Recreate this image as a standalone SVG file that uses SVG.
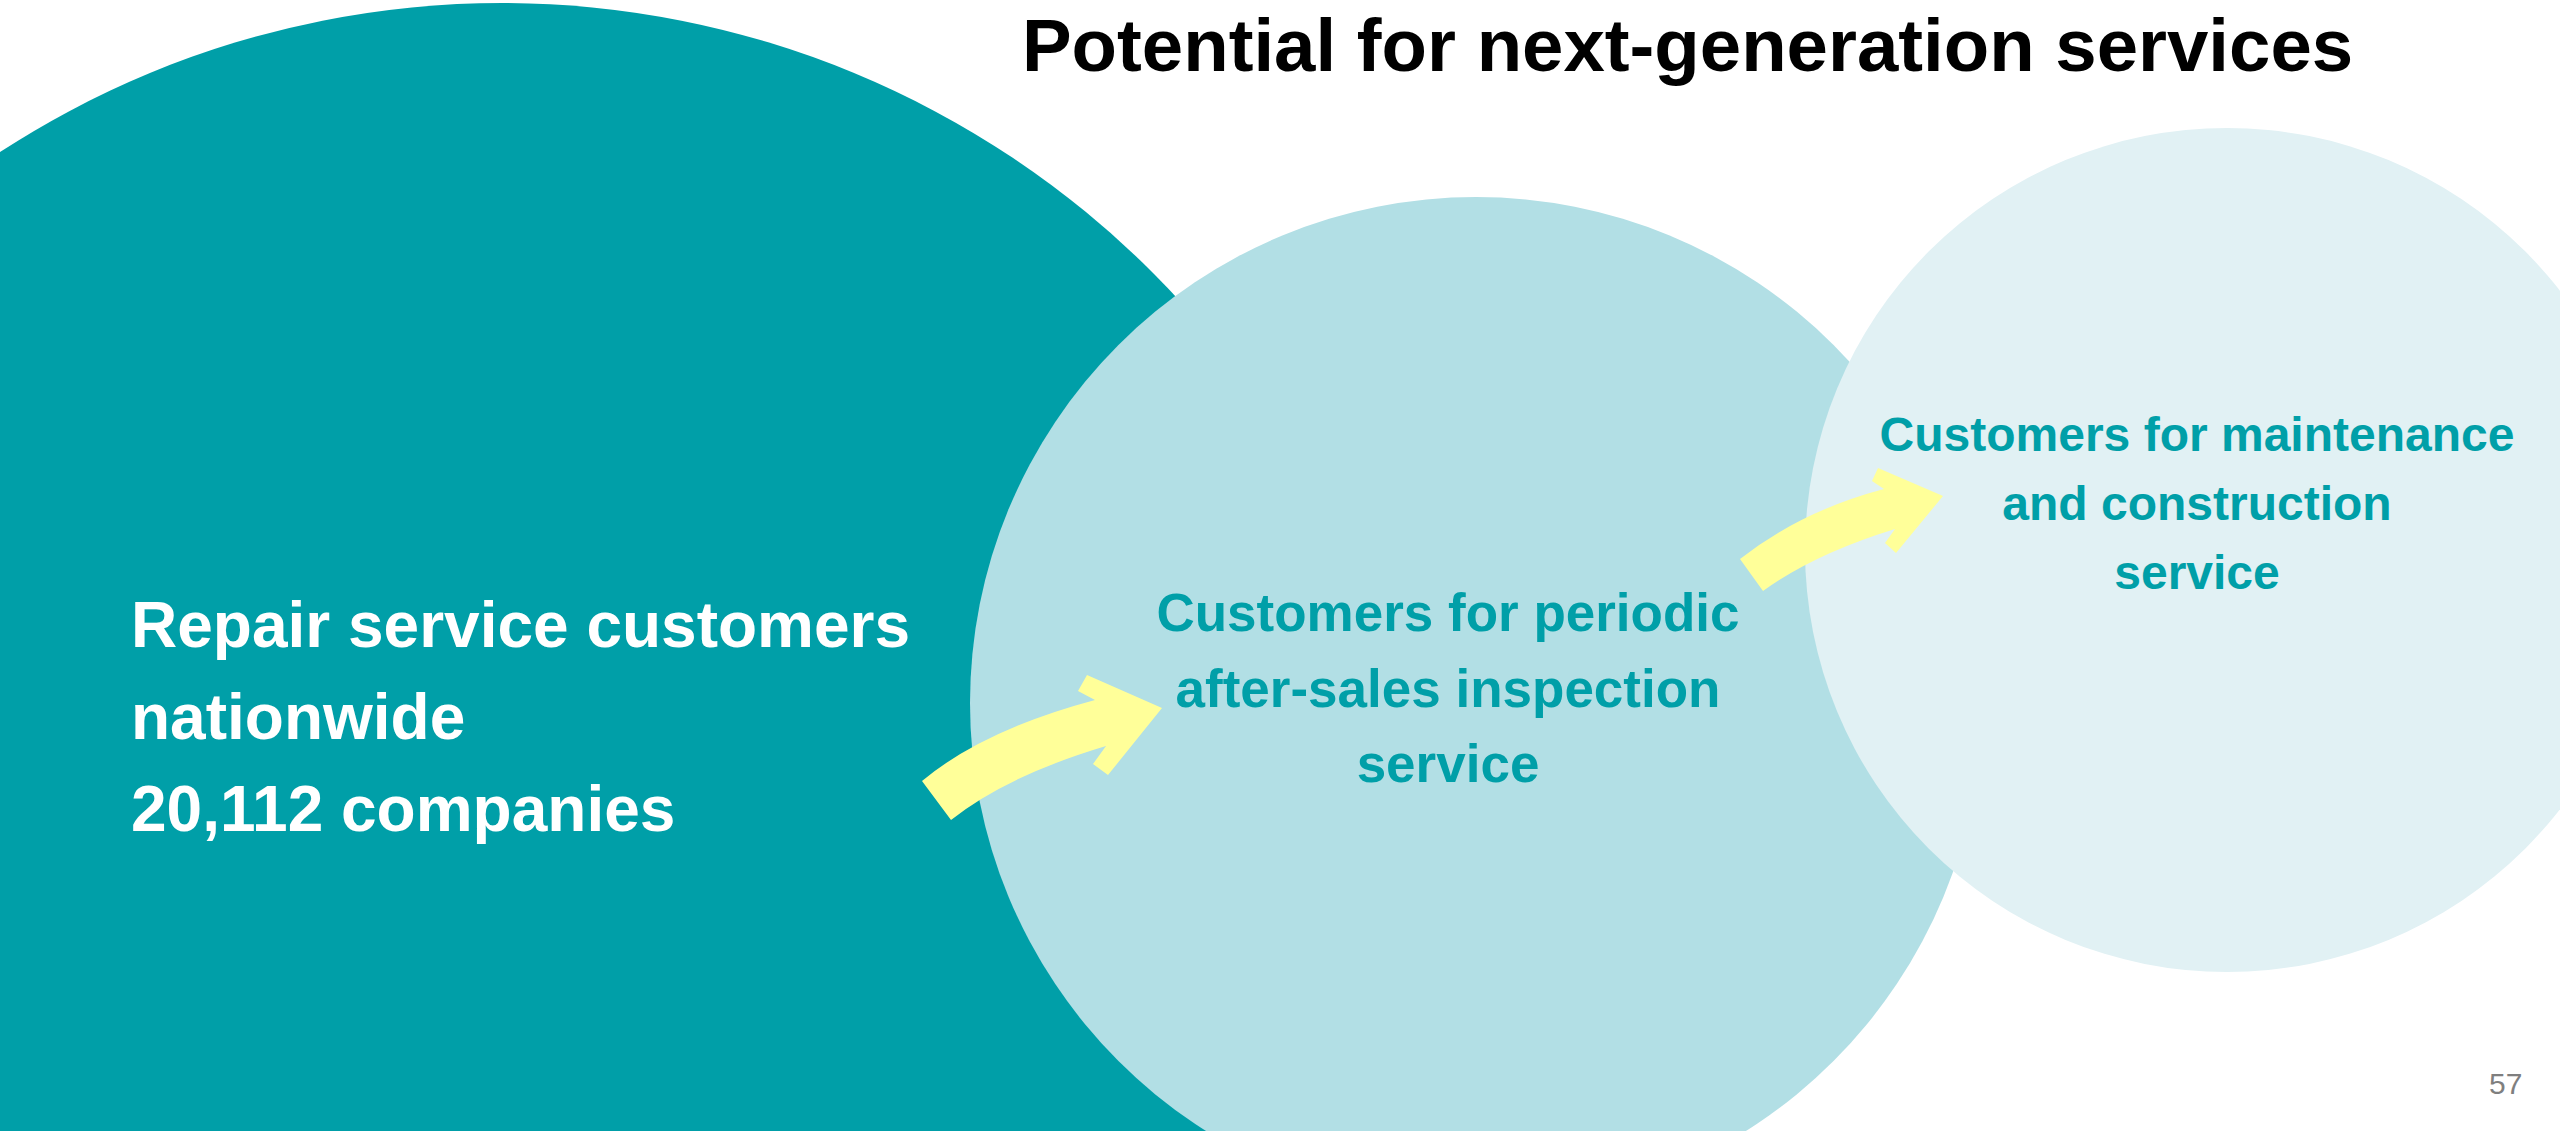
<svg xmlns="http://www.w3.org/2000/svg" width="2560" height="1131" viewBox="0 0 2560 1131">
<style>
.t{font-family:"Liberation Sans",Arial,sans-serif;font-weight:bold}
.title{font-size:74.4px;fill:#000}
.lt{font-size:64px;fill:#fff}
.mt{font-size:53px;fill:#009FA8;text-anchor:middle}
.rt{font-size:48px;fill:#009FA8;text-anchor:middle}
.arrow{fill:#FFFF99}
.pg{font-family:"Liberation Sans",Arial,sans-serif;font-size:30px;fill:#7F7F7F}
</style>
<rect width="2560" height="1131" fill="#fff"/>
<g id="node-repair">
<circle cx="502" cy="923" r="920" fill="#009FA8"/>
</g>
<g id="node-periodic">
<circle cx="1476" cy="703" r="506" fill="#B2DFE5"/>
</g>
<g id="node-maintenance">
<circle cx="2227" cy="550" r="422" fill="#E1F1F4"/>
</g>
<g id="connectors">
<path class="arrow" d="M 922 781 Q 983 730 1095 700 L 1078 691 L 1087 675 L 1162 708 L 1108 775 L 1093 764 L 1106 746 Q 1006 776 951 820 Z"/>
<path class="arrow" d="M 1740 559 Q 1801 511 1884 489 L 1872 481 L 1878 468 L 1943 496 L 1896 553 L 1885 543 L 1895 529 Q 1814 554 1763 591 Z"/>
</g>
<text class="t title" x="1022" y="71">Potential for next-generation services</text>
<g id="label-repair">
<text class="t lt" x="131" y="647">Repair service customers</text>
<text class="t lt" x="131" y="739">nationwide</text>
<text class="t lt" x="131" y="831">20,112 companies</text>
</g>
<g id="label-periodic">
<text class="t mt" x="1448" y="631">Customers for periodic</text>
<text class="t mt" x="1448" y="707">after-sales inspection</text>
<text class="t mt" x="1448" y="782">service</text>
</g>
<g id="label-maintenance">
<text class="t rt" x="2197" y="451">Customers for maintenance</text>
<text class="t rt" x="2197" y="520">and construction</text>
<text class="t rt" x="2197" y="589">service</text>
</g>
<text class="pg" x="2489" y="1094">57</text>
</svg>
